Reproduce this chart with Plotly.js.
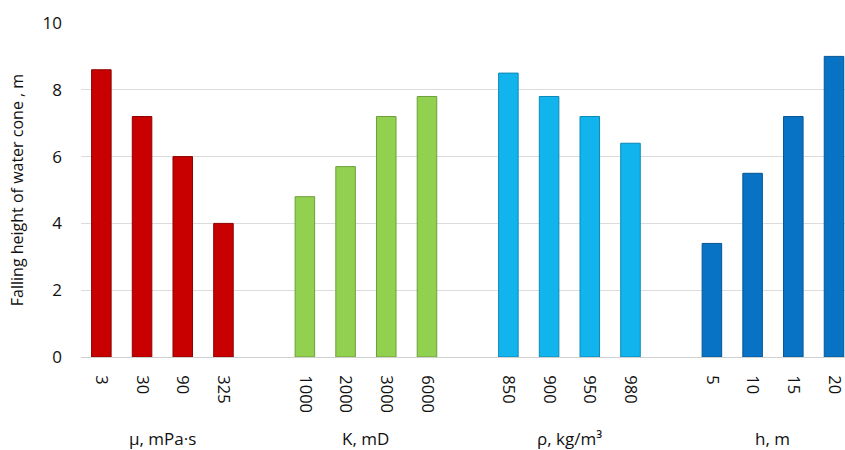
<!DOCTYPE html>
<html><head><meta charset="utf-8">
<script src="https://cdn.plot.ly/plotly-3.0.1.min.js"></script>
<style>html,body{margin:0;padding:0;background:#fff}#chart{width:845px;height:450px}</style>
</head><body><div id="chart"></div>
<script>
const groupLabels = ["μ, mPa·s", "K, mD", "ρ, kg/m³", "h, m"];
const muCats = ["3", "30", "90", "325"];
const muVals = [8.6, 7.2, 6.0, 4.0];
const kCats = ["1000", "2000", "3000", "6000"];
const kVals = [4.8, 5.7, 7.2, 7.8];
const rhoCats = ["850", "900", "950", "980"];
const rhoVals = [8.5, 7.8, 7.2, 6.4];
const hCats = ["5", "10", "15", "20"];
const hVals = [3.4, 5.5, 7.2, 9.0];
const colors = ["#C80000", "#92D050", "#12B4EE", "#0872C4"];
const lineColors = ["#8E0000", "#6E9E3A", "#0C88B6", "#055694"];

const groups = [[muCats, muVals], [kCats, kVals], [rhoCats, rhoVals], [hCats, hVals]];
const traces = [];
const tickvals = [], ticktext = [];
const annotations = [];
groups.forEach(([cats, vals], g) => {
  const xs = cats.map((c, i) => g * 5 + i);
  xs.forEach((x, i) => { tickvals.push(x); ticktext.push(cats[i]); });
  traces.push({
    type: "bar", x: xs, y: vals, width: 0.48,
    marker: {color: colors[g], line: {color: lineColors[g], width: 1}},
    hoverinfo: "skip", showlegend: false
  });
  annotations.push({
    text: groupLabels[g], x: g * 5 + 1.5, xref: "x", y: 0, yref: "paper",
    yanchor: "middle", yshift: -81, showarrow: false, font: {size: 17, color: "#111"}
  });
});

Plotly.newPlot("chart", traces, {
  width: 845, height: 450,
  margin: {l: 80.5, r: 0, t: 23, b: 93},
  paper_bgcolor: "#fff", plot_bgcolor: "#fff",
  font: {family: "Open Sans, Noto Sans, sans-serif", size: 17, color: "#111"},
  xaxis: {range: [-0.5, 18.27], tickvals: tickvals, ticktext: ticktext, tickangle: 90,
          showgrid: false, zeroline: false, showline: true, linecolor: "#D0D0D0", linewidth: 1,
          ticks: "", ticklen: 0, ticklabelstandoff: 14, ticklabeloverflow: "allow",
          tickfont: {size: 16.5}},
  yaxis: {range: [0, 10], dtick: 2, showgrid: true, gridcolor: "#DCDCDC", gridwidth: 1,
          zeroline: false, showline: false, ticks: "", tickfont: {size: 17},
          ticklabelstandoff: 18,
          title: {text: "Falling height of water cone , m", font: {size: 16}, standoff: 14}},
  annotations: annotations,
  bargap: 0
}, {staticPlot: true});
</script></body></html>
